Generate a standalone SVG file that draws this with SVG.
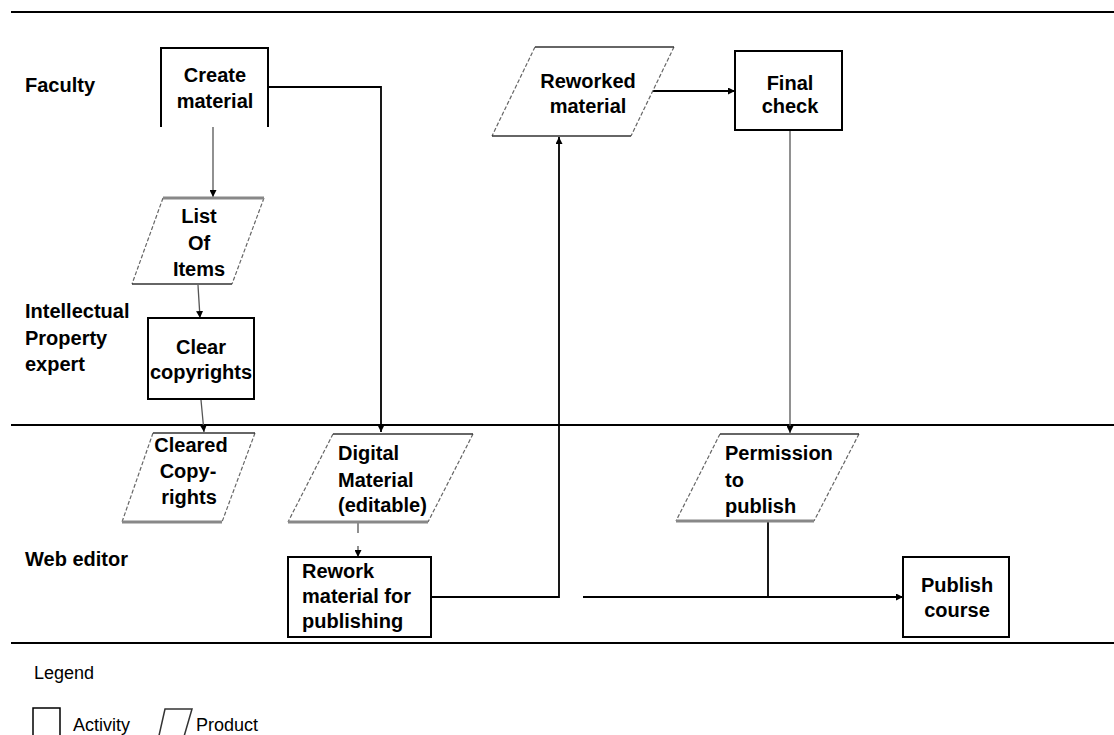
<svg xmlns="http://www.w3.org/2000/svg" width="1114" height="735" viewBox="0 0 1114 735">
<defs>
<marker id="arr" viewBox="0 0 10 10" refX="10" refY="5" markerWidth="7" markerHeight="7" markerUnits="userSpaceOnUse" orient="auto">
<path d="M0,0 L10,5 L0,10 Z" fill="#000"/>
</marker>
</defs>
<style>
text{font-family:"Liberation Sans",Arial,sans-serif;font-size:20px;font-weight:bold;fill:#000}
.lane{font-weight:bold}
.leg{font-weight:normal;font-size:18px}
.c{text-anchor:middle}
.box{fill:#fff;stroke:#000;stroke-width:2}
.side{stroke:#666;stroke-width:1.2;stroke-dasharray:4 2;fill:none}
.edge{stroke:#333;stroke-width:1.5;fill:none}
.gedge{stroke:#888;stroke-width:3;fill:none}
.lanel{stroke:#000;stroke-width:2}
.con{stroke:#000;stroke-width:1.8;fill:none}
.cong{stroke:#555;stroke-width:1.3;fill:none}
</style>
<rect width="1114" height="735" fill="#fff"/>
<g id="lanes">
<line class="lanel" x1="11" y1="12" x2="1114" y2="12"/>
<line class="lanel" x1="11" y1="425" x2="1114" y2="425"/>
<line class="lanel" x1="11" y1="643" x2="1114" y2="643"/>
<text class="lane" x="25" y="92">Faculty</text>
<text class="lane" x="25" y="318">Intellectual</text>
<text class="lane" x="25" y="345">Property</text>
<text class="lane" x="25" y="371">expert</text>
<text class="lane" x="25" y="566">Web editor</text>
</g>
<g id="connectors">
<path class="con" d="M268,87 H381 V432" marker-end="url(#arr)"/>
<path class="cong" d="M213,126 V197" marker-end="url(#arr)"/>
<path class="cong" d="M198,285 L200,318" marker-end="url(#arr)"/>
<path class="cong" d="M201,400 L204,432" marker-end="url(#arr)"/>
<path class="cong" d="M358,522 V557" stroke-dasharray="11 13" marker-end="url(#arr)"/>
<path class="con" d="M431,597 H559 V137" marker-end="url(#arr)"/>
<path class="con" d="M583,597 H903" marker-end="url(#arr)"/>
<path class="con" d="M768,521 V597"/>
<path class="con" d="M652,91 H735" marker-end="url(#arr)"/>
<path class="cong" d="M790,130 V433" marker-end="url(#arr)"/>
</g>
<g id="create-material">
<path class="box" d="M161,127 V48 H268 V127" fill="none"/>
<text class="c" x="215" y="82">Create</text>
<text class="c" x="215" y="108">material</text>
</g>
<g id="list-of-items">
<path d="M163,198 L264,198 L232,284 L132,284 Z" fill="#fff"/>
<path class="side" d="M163,198 L132,284 M264,198 L232,284"/>
<path class="gedge" d="M163,198 H264"/>
<path class="edge" d="M132,284 H232"/>
<text class="c" x="199" y="223">List</text>
<text class="c" x="199" y="250">Of</text>
<text class="c" x="199" y="276">Items</text>
</g>
<g id="clear-copyrights">
<rect class="box" x="148" y="318" width="106" height="81"/>
<text class="c" x="201" y="354">Clear</text>
<text class="c" x="201" y="379">copyrights</text>
</g>
<g id="cleared-copyrights">
<path d="M153,433 L255,433 L222,522 L122,522 Z" fill="#fff"/>
<path class="side" d="M153,433 L122,522 M255,433 L222,522"/>
<path class="edge" d="M153,433 H255"/>
<path class="gedge" d="M122,522 H222"/>
<text class="c" x="191" y="452">Cleared</text>
<text class="c" x="188" y="478">Copy-</text>
<text class="c" x="189" y="504">rights</text>
</g>
<g id="digital-material">
<path d="M333,434 L473,434 L428,522 L288,522 Z" fill="#fff"/>
<path class="side" d="M333,434 L288,522 M473,434 L428,522"/>
<path class="edge" d="M333,434 H473"/>
<path class="gedge" d="M288,522 H428"/>
<text x="338" y="460">Digital</text>
<text x="338" y="487">Material</text>
<text x="338" y="512">(editable)</text>
</g>
<g id="rework-material">
<rect class="box" x="288" y="557" width="143" height="80"/>
<text x="302" y="578">Rework</text>
<text x="302" y="603">material for</text>
<text x="302" y="628">publishing</text>
</g>
<g id="reworked-material">
<path d="M535,47 L674,47 L631,136 L492,136 Z" fill="#fff"/>
<path class="side" d="M535,47 L492,136 M674,47 L631,136"/>
<path class="edge" d="M535,47 H674"/>
<path class="edge" d="M492,136 H631"/>
<text class="c" x="588" y="88">Reworked</text>
<text class="c" x="588" y="113">material</text>
</g>
<g id="final-check">
<rect class="box" x="735" y="51" width="107" height="79"/>
<text class="c" x="790" y="90">Final</text>
<text class="c" x="790" y="113">check</text>
</g>
<g id="permission-to-publish">
<path d="M720,434 L859,434 L814,521 L676,521 Z" fill="#fff"/>
<path class="side" d="M720,434 L676,521 M859,434 L814,521"/>
<path class="edge" d="M720,434 H859"/>
<path class="gedge" d="M676,521 H814"/>
<text x="725" y="460">Permission</text>
<text x="725" y="487">to</text>
<text x="725" y="513">publish</text>
</g>
<g id="publish-course">
<rect class="box" x="903" y="557" width="106" height="80"/>
<text class="c" x="957" y="592">Publish</text>
<text class="c" x="957" y="617">course</text>
</g>
<g id="legend">
<text class="leg" x="34" y="679">Legend</text>
<path d="M33,740 V708 H60 V740" fill="none" stroke="#000" stroke-width="1.5"/>
<text class="leg" x="73" y="731">Activity</text>
<path d="M158,740 L165,709 H192 L183,740" fill="none" stroke="#333" stroke-width="1.5"/>
<text class="leg" x="196" y="731">Product</text>
</g>
</svg>
